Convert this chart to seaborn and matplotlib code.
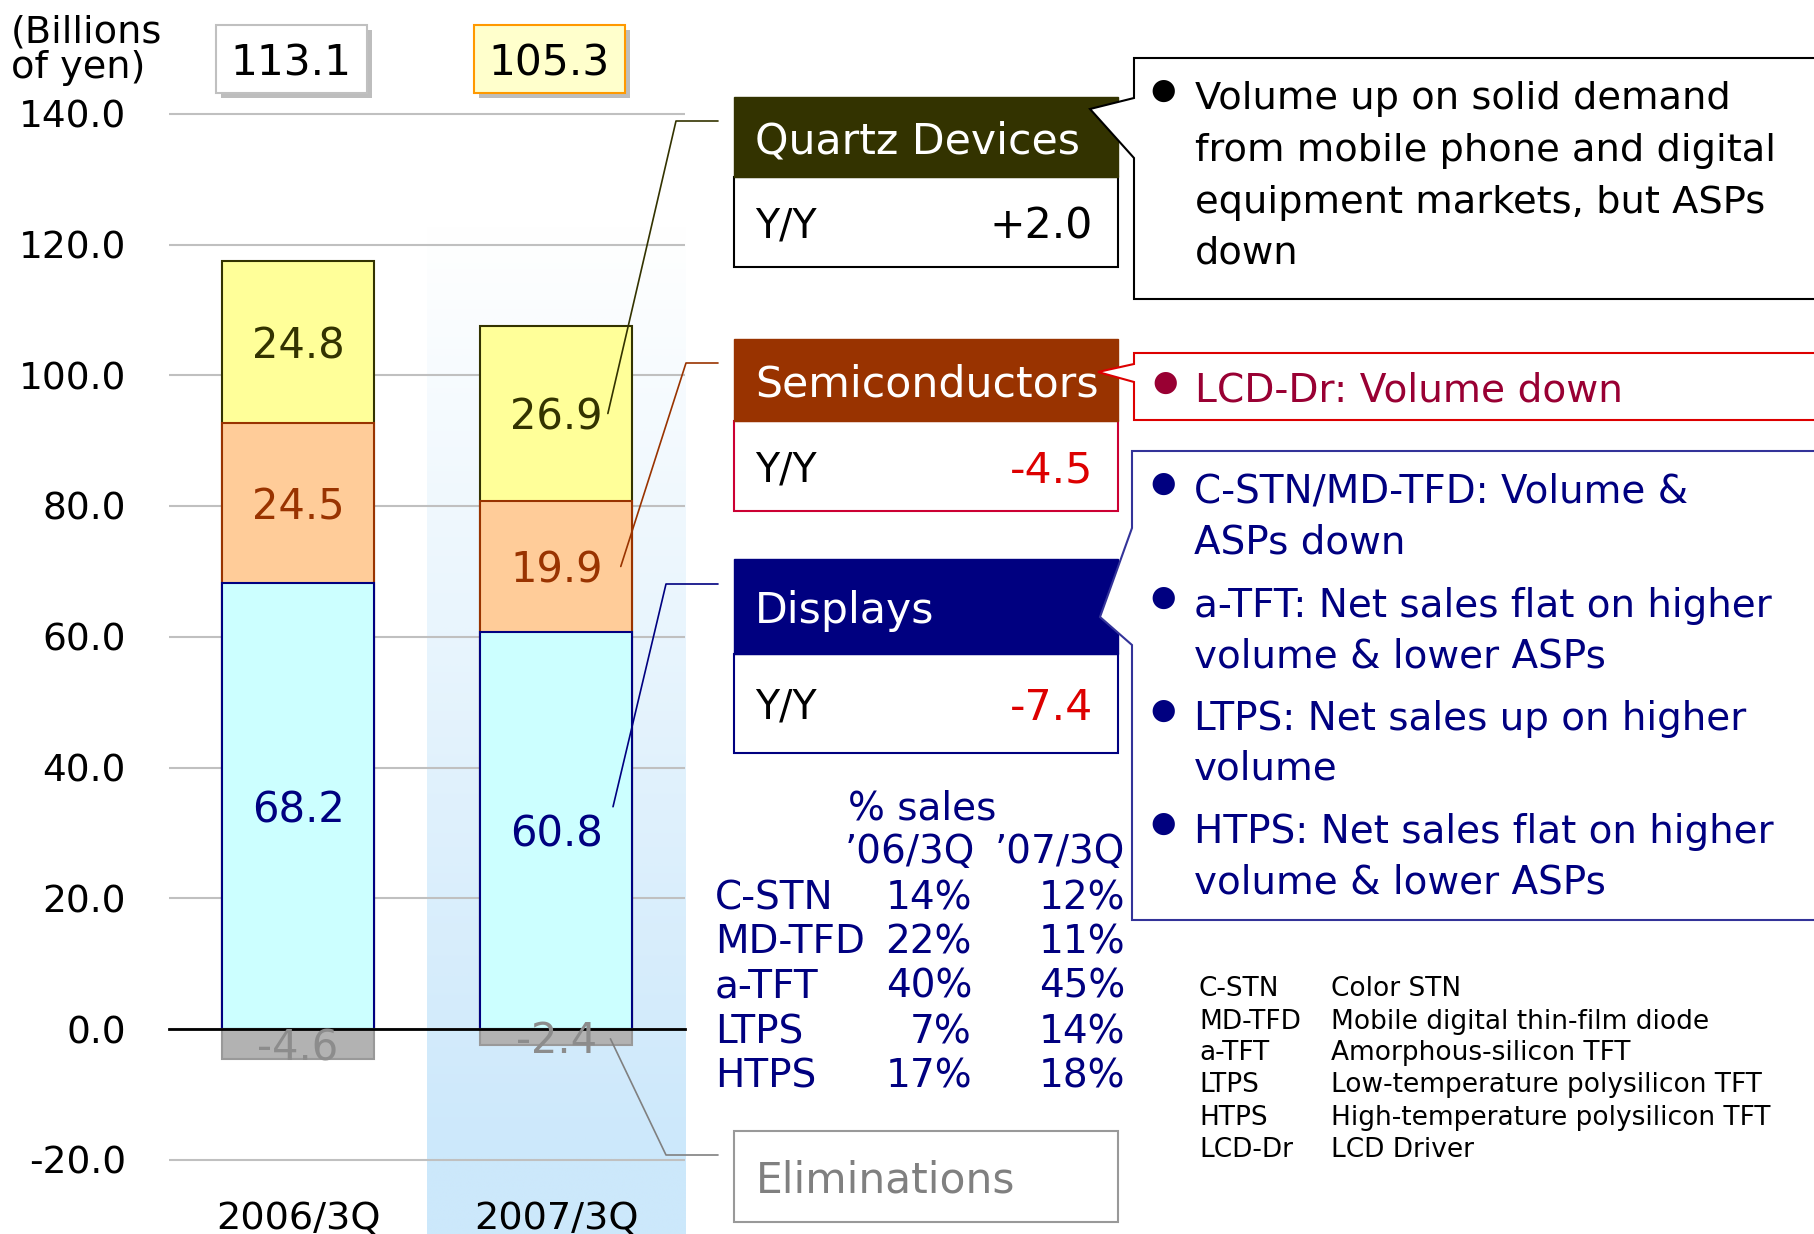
import numpy as np
import pandas as pd
import matplotlib
matplotlib.use("Agg")
import matplotlib.pyplot as plt
import seaborn as sns
from matplotlib.patches import Rectangle, Polygon
from matplotlib.colors import LinearSegmentedColormap

# ---------------- data ----------------
periods = ["2006/3Q", "2007/3Q"]
displays = [68.2, 60.8]
semiconductors = [24.5, 19.9]
quartz = [24.8, 26.9]
eliminations = [-4.6, -2.4]
totals = [113.1, 105.3]

segment_names = ["Quartz Devices", "Semiconductors", "Displays"]
segment_yoy = [2.0, -4.5, -7.4]

quartz_notes = ["Volume up on solid demand", "from mobile phone and digital",
                "equipment markets, but ASPs", "down"]
semi_notes = ["LCD-Dr: Volume down"]
display_notes = [["C-STN/MD-TFD: Volume &", "ASPs down"],
                 ["a-TFT: Net sales flat on higher", "volume & lower ASPs"],
                 ["LTPS: Net sales up on higher", "volume"],
                 ["HTPS: Net sales flat on higher", "volume & lower ASPs"]]

share_rows = ["C-STN", "MD-TFD", "a-TFT", "LTPS", "HTPS"]
share_06 = [14, 22, 40, 7, 17]
share_07 = [12, 11, 45, 14, 18]

abbr = ["C-STN", "MD-TFD", "a-TFT", "LTPS", "HTPS", "LCD-Dr"]
abbr_full = ["Color STN", "Mobile digital thin-film diode", "Amorphous-silicon TFT",
             "Low-temperature polysilicon TFT", "High-temperature polysilicon TFT",
             "LCD Driver"]

df = pd.DataFrame({"period": periods, "displays": displays, "semi": semiconductors,
                   "quartz": quartz, "elim": eliminations})
df["semi_top"] = df["displays"] + df["semi"]
df["quartz_top"] = df["semi_top"] + df["quartz"]

# ---------------- layout ----------------
sns.set_style("white")
plt.rcParams["font.family"] = ["DejaVu Sans"]
plt.rcParams["text.color"] = "black"
plt.rcParams["ytick.color"] = "black"
plt.rcParams["xtick.color"] = "black"

W, H = 1815, 1234
fig = plt.figure(figsize=(W / 100, H / 100), dpi=100)

PPU = 6.5375      # pixels per billion yen
ZERO_PX = 1029
y_top = 141
y_bot = -(H - ZERO_PX) / PPU
ax_top_px = ZERO_PX - y_top * PPU
ax = fig.add_axes([169 / W, 0, (685.3 - 169) / W, (H - ax_top_px) / H])

# highlighted band behind 2007/3Q
band_y = np.linspace(y_top, y_bot, 400)
shade = np.clip((123 - band_y) / 143, 0, 1).reshape(-1, 1)
band_cmap = LinearSegmentedColormap.from_list("band", ["#ffffff", "#cce8fb"])
ax.imshow(shade, extent=(0.5, 1.5, y_bot, y_top), cmap=band_cmap, vmin=0, vmax=1,
          aspect="auto", zorder=0, interpolation="bilinear")

# stacked bars (drawn top-down as cumulative bars)
bar_w = 0.587
layers = [("quartz_top", "#ffff99", "#333300"),
          ("semi_top", "#ffcc99", "#993300"),
          ("displays", "#ccffff", "#000080"),
          ("elim", "#b2b2b2", "#999999")]
for col, fc, ec in layers:
    sns.barplot(data=df, x="period", y=col, color=fc, edgecolor=ec, linewidth=1.5,
                width=bar_w, saturation=1, errorbar=None, ax=ax, zorder=2)

ax.set_xlim(-0.5, 1.5)
ax.set_ylim(y_bot, y_top)
ax.set_xlabel("")
ax.set_ylabel("")

yt = np.arange(-20, 141, 20)
ax.set_yticks(yt)
ax.set_yticklabels([f"{v:.1f}" for v in yt])
ax.tick_params(axis="y", length=0, pad=31, labelsize=27, labelcolor="black")
ax.set_xticks([-0.5, 0.5, 1.5])
ax.set_xticklabels(["", "", ""])
ax.tick_params(axis="x", direction="in", length=9.5, width=1.5, color="black")
ax.yaxis.grid(True, color="#c0c0c0", linewidth=1.5)
ax.xaxis.grid(False)
ax.set_axisbelow(True)
for s in ["left", "right", "top"]:
    ax.spines[s].set_visible(False)
ax.spines["bottom"].set_position(("data", 0))
ax.spines["bottom"].set_color("black")
ax.spines["bottom"].set_linewidth(2)

for i, p in enumerate(periods):
    ax.text(i, -28.45, p, ha="center", va="center_baseline", fontsize=27.5, color="black")

# segment value labels
label_cols = ["#000080", "#993300", "#333300", "#8c8c8c"]
centers = {}
for i in range(len(periods)):
    c = [displays[i] / 2,
         displays[i] + semiconductors[i] / 2,
         displays[i] + semiconductors[i] + quartz[i] / 2,
         eliminations[i] / 2]
    vals = [displays[i], semiconductors[i], quartz[i], eliminations[i]]
    centers[i] = c
    for v, yc, colr in zip(vals, c, label_cols):
        ax.text(i, yc, f"{v:.1f}", ha="center", va="center_baseline",
                fontsize=30, color=colr, zorder=3)

# ---------------- overlay in pixel coords ----------------
ov = fig.add_axes([0, 0, 1, 1])
ov.set_xlim(0, W)
ov.set_ylim(H, 0)
ov.axis("off")
ov.patch.set_visible(False)


def to_px(x, y):
    dx, dy = ax.transData.transform((x, y))
    return dx, H - dy


def put(x, y, s, size, **kw):
    kw.setdefault("color", "black")
    ov.text(x, y, s, fontsize=size, va="center_baseline", zorder=5, **kw)


put(11, 29, "(Billions", 27.5)
put(11, 64, "of yen)", 27.5)

# totals boxes
box_fc = ["white", "#ffffcc"]
box_ec = ["#c0c0c0", "#ff9900"]
for i, tot in enumerate(totals):
    cx = to_px(i, 0)[0] - 7
    x0, y0, bw, bh = cx - 75.5, 25, 151, 68
    ov.add_patch(Rectangle((x0 + 5, y0 + 5), bw, bh, fc="#bdbdbd", ec="none", zorder=1))
    ov.add_patch(Rectangle((x0, y0), bw, bh, fc=box_fc[i], ec=box_ec[i], lw=1.5, zorder=2))
    put(cx, y0 + bh / 2, f"{tot:.1f}", 30.5, ha="center")

# segment headers with Y/Y boxes
px0, px1 = 734, 1118
panel_rows = [(97, 177, 267, "#333300", "black"),
              (339, 421, 511, "#993300", "#cc0033"),
              (559, 654, 753, "#000080", "#000080")]
for name, yoy, (top, mid, bot, hc, bc) in zip(segment_names, segment_yoy, panel_rows):
    ov.add_patch(Rectangle((px0, mid), px1 - px0, bot - mid, fc="white", ec=bc, lw=1.5, zorder=2))
    ov.add_patch(Rectangle((px0, top), px1 - px0, mid - top, fc=hc, ec=hc, lw=1, zorder=2))
    put(755, (top + mid) / 2, name, 30.7, color="white")
    put(755, (mid + bot) / 2, "Y/Y", 28.5)
    put(1093, (mid + bot) / 2, f"{yoy:+.1f}" if yoy > 0 else f"{yoy:.1f}", 30.7,
        ha="right", color="black" if yoy > 0 else "#dd0000")

# eliminations box
ov.add_patch(Rectangle((px0, 1131), px1 - px0, 91, fc="white", ec="#999999", lw=1.5, zorder=2))
put(756, 1176, "Eliminations", 30.5, color="#808080")

# callouts
callouts = [(1134, 58, 299, (98, 158), (1090, 109), "black"),
            (1134, 353, 420, (364, 382), (1098, 372), "#dd0000"),
            (1132, 451, 920, (528, 645), (1100, 617), "#333399")]
for x0, top, bot, base, tip, ec in callouts:
    pts = [(x0, top), (W + 20, top), (W + 20, bot), (x0, bot),
           (x0, base[1]), tip, (x0, base[0])]
    ov.add_patch(Polygon(pts, closed=True, fc="white", ec=ec, lw=1.5, zorder=3))

bullet_size = 21
q_y = [95, 147, 199, 250]
put(1163, q_y[0] - 7, "●", bullet_size, ha="center")
for s, y in zip(quartz_notes, q_y):
    put(1195, y, s, 27.6)

put(1165, 387 - 7, "●", bullet_size, ha="center", color="#990033")
put(1195, 387, semi_notes[0], 28.2, color="#990033")

d_y = [488, 539, 602, 653, 715, 765, 828, 879]
k = 0
for item in display_notes:
    put(1163, d_y[k] - 7, "●", bullet_size, ha="center", color="#000080")
    for s in item:
        put(1194, d_y[k], s, 28, color="#000080")
        k += 1

# leader lines from the 2007/3Q labels to the panels
leaders = [(1.2, centers[1][2], (676, 121), "#333300"),
           (1.25, centers[1][1], (686, 363), "#993300"),
           (1.22, centers[1][0] + 3.6, (666, 584), "#000080"),
           (1.21, centers[1][3] - 0.3, (666, 1155), "#808080")]
for lx, ly, corner, colr in leaders:
    sx, sy = to_px(lx, ly)
    ov.plot([sx, corner[0], 718], [sy, corner[1], corner[1]], color=colr, lw=1.2, zorder=4)

# % sales table
navy = "#000080"
put(848, 804, "% sales", 28, color=navy)
put(975, 848, "\u201906/3Q", 28, ha="right", color=navy)
put(1125, 848, "\u201907/3Q", 28, ha="right", color=navy)
row_y = [894, 938, 983, 1028, 1072]
for name, a, b, y in zip(share_rows, share_06, share_07, row_y):
    put(715, y, name, 28, color=navy)
    put(972, y, f"{a}%", 28, ha="right", color=navy)
    put(1125, y, f"{b}%", 28, ha="right", color=navy)

# abbreviation legend
ab_y = [986, 1019, 1050, 1082, 1115, 1147]
for a, f, y in zip(abbr, abbr_full, ab_y):
    put(1199, y, a, 19, color="black")
    put(1331, y, f, 19, color="black")

fig.savefig("out.png", dpi=100)
